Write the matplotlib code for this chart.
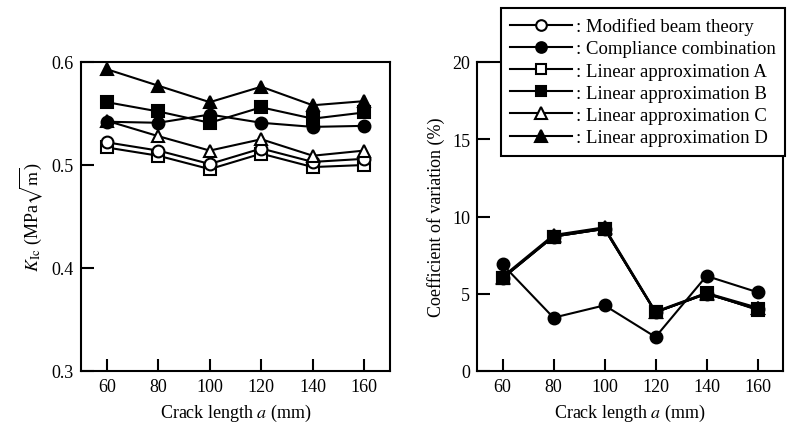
import matplotlib
matplotlib.use("Agg")
import matplotlib.pyplot as plt

plt.rcParams['font.family'] = ['Liberation Serif', 'DejaVu Serif']
plt.rcParams['mathtext.fontset'] = 'stix'

# crack length (mm)
crack = [60, 80, 100, 120, 140, 160]

# fracture toughness K_Ic (MPa sqrt(m))
kic_mbt = [0.522, 0.514, 0.501, 0.516, 0.503, 0.506]
kic_cc = [0.542, 0.541, 0.549, 0.541, 0.537, 0.538]
kic_a = [0.517, 0.509, 0.496, 0.511, 0.498, 0.500]
kic_b = [0.561, 0.552, 0.541, 0.556, 0.545, 0.551]
kic_c = [0.543, 0.528, 0.514, 0.525, 0.509, 0.514]
kic_d = [0.593, 0.577, 0.561, 0.576, 0.558, 0.562]

# coefficient of variation (%)
cv_mbt = [6.0, 8.7, 9.2, 3.8, 5.0, 4.0]
cv_cc = [6.9, 3.45, 4.25, 2.2, 6.15, 5.1]
cv_a = [6.0, 8.7, 9.2, 3.8, 5.0, 4.0]
cv_b = [6.05, 8.7, 9.2, 3.8, 5.05, 3.95]
cv_c = [6.0, 8.75, 9.25, 3.8, 5.0, 4.05]
cv_d = [6.1, 8.8, 9.3, 3.85, 5.05, 4.1]

labels = [': Modified beam theory', ': Compliance combination',
          ': Linear approximation A', ': Linear approximation B',
          ': Linear approximation C', ': Linear approximation D']

# marker, face colour, size, zorder
styles = [('o', 'white', 8.5, 3), ('o', 'black', 8.5, 6),
          ('s', 'white', 8.5, 2), ('s', 'black', 8.5, 7),
          ('^', 'white', 9, 4), ('^', 'black', 9, 5)]

fig = plt.figure(figsize=(7.92, 4.27), dpi=100)
ax1 = fig.add_axes([81/792, 1-372/427, 309/792, 309/427])
ax2 = fig.add_axes([477/792, 1-372/427, 306/792, 309/427])

kic_all = [kic_mbt, kic_cc, kic_a, kic_b, kic_c, kic_d]
cv_all = [cv_mbt, cv_cc, cv_a, cv_b, cv_c, cv_d]

handles = []
for vals, (m, fc, ms, z), lab in zip(kic_all, styles, labels):
    ln, = ax1.plot(crack, vals, marker=m, mfc=fc, mec='black', mew=1.5,
                   ms=ms, color='black', lw=1.5, zorder=z, label=lab)
    handles.append(ln)

for vals, (m, fc, ms, z) in zip(cv_all, styles):
    ax2.plot(crack, vals, marker=m, mfc=fc, mec='black', mew=1.5,
             ms=ms, color='black', lw=1.5, zorder=z)

ax1.set_xlim(50, 170)
ax1.set_ylim(0.3, 0.6)
ax1.set_yticks([0.3, 0.4, 0.5, 0.6])
ax1.set_ylabel(r'$K_{\mathrm{Ic}}$ (MPa$\sqrt{\mathrm{m}}$)', fontsize=13, labelpad=5)

ax2.set_xlim(50, 170)
ax2.set_ylim(0, 20)
ax2.set_yticks([0, 5, 10, 15, 20])
ax2.set_ylabel('Coefficient of variation (%)', fontsize=13, labelpad=5)

for ax in (ax1, ax2):
    ax.set_xticks(crack)
    ax.set_xlabel('Crack length $a$ (mm)', fontsize=13, labelpad=5)
    ax.tick_params(direction='in', length=9, width=1.5, labelsize=13, pad=5)
    for sp in ax.spines.values():
        sp.set_linewidth(1.5)

leg = fig.legend(handles=handles, labels=labels, loc='upper right',
                 bbox_to_anchor=(785/792, 1-9/427), bbox_transform=fig.transFigure,
                 fontsize=13.5, handlelength=3.3, handletextpad=0.2, markerscale=0.9,
                 labelspacing=0.27, borderpad=0.5, fancybox=False,
                 framealpha=1, edgecolor='black', borderaxespad=0)
leg.get_frame().set_linewidth(1.5)
leg.set_zorder(10)

fig.savefig('out.png', dpi=100)
